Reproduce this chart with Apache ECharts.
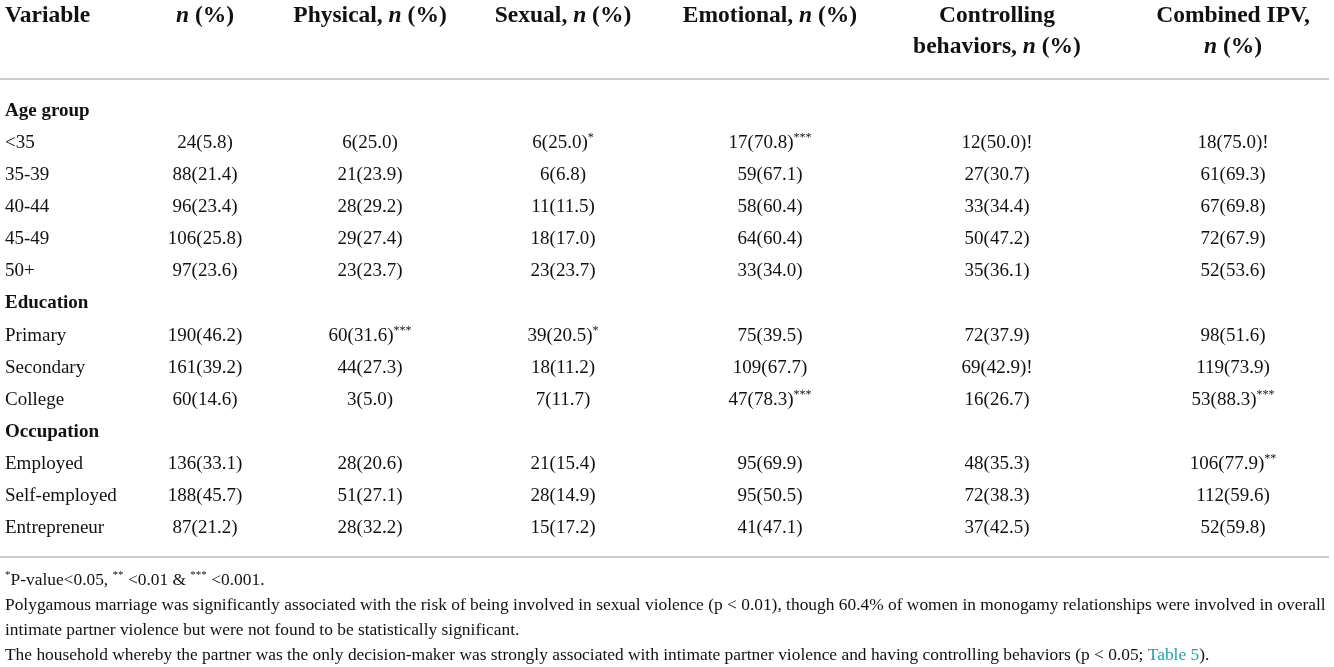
<!doctype html>
<html lang="en">

<head>
    <meta charset="UTF-8" />
    <title>IPV by age, education, occupation</title>
    <style>
        html, body { margin: 0; padding: 0; background: #fff; }
        #main { width: 1334px; height: 667px; }
    </style>
</head>

<body>
    <div id="main"></div>

    <script src="https://cdn.jsdelivr.net/npm/echarts@6/dist/echarts.min.js"></script>
    <script type="text/javascript">
        // table data, one array per column
        var variables = ['Age group', '<35', '35-39', '40-44', '45-49', '50+', 'Education', 'Primary', 'Secondary', 'College',
            'Occupation', 'Employed', 'Self-employed', 'Entrepreneur'];
        var sectionRows = ['Age group', 'Education', 'Occupation'];
        var nPct = ['', '24(5.8)', '88(21.4)', '96(23.4)', '106(25.8)', '97(23.6)', '', '190(46.2)', '161(39.2)', '60(14.6)',
            '', '136(33.1)', '188(45.7)', '87(21.2)'];
        var physical = ['', '6(25.0)', '21(23.9)', '28(29.2)', '29(27.4)', '23(23.7)', '', '60(31.6)***', '44(27.3)', '3(5.0)',
            '', '28(20.6)', '51(27.1)', '28(32.2)'];
        var sexual = ['', '6(25.0)*', '6(6.8)', '11(11.5)', '18(17.0)', '23(23.7)', '', '39(20.5)*', '18(11.2)', '7(11.7)',
            '', '21(15.4)', '28(14.9)', '15(17.2)'];
        var emotional = ['', '17(70.8)***', '59(67.1)', '58(60.4)', '64(60.4)', '33(34.0)', '', '75(39.5)', '109(67.7)', '47(78.3)***',
            '', '95(69.9)', '95(50.5)', '41(47.1)'];
        var controlling = ['', '12(50.0)!', '27(30.7)', '33(34.4)', '50(47.2)', '35(36.1)', '', '72(37.9)', '69(42.9)!', '16(26.7)',
            '', '48(35.3)', '72(38.3)', '37(42.5)'];
        var combined = ['', '18(75.0)!', '61(69.3)', '67(69.8)', '72(67.9)', '52(53.6)', '', '98(51.6)', '119(73.9)', '53(88.3)***',
            '', '106(77.9)**', '112(59.6)', '52(59.8)'];

        // header lines per column ({i|..} = italic n)
        var headers = [
            ['Variable'],
            ['{i|n} (%)'],
            ['Physical, {i|n} (%)'],
            ['Sexual, {i|n} (%)'],
            ['Emotional, {i|n} (%)'],
            ['Controlling', 'behaviors, {i|n} (%)'],
            ['Combined IPV,', '{i|n} (%)']
        ];
        var footnotes = [
            '{s|*}P-value<0.05, {s|**} <0.01 & {s|***} <0.001.',
            'Polygamous marriage was significantly associated with the risk of being involved in sexual violence (p < 0.01), though 60.4% of women in monogamy relationships were involved in overall',
            'intimate partner violence but were not found to be statistically significant.',
            'The household whereby the partner was the only decision-maker was strongly associated with intimate partner violence and having controlling behaviors (p < 0.05; {a|Table 5}).'
        ];

        var columns = [variables, nPct, physical, sexual, emotional, controlling, combined];

        // layout
        var colX = [5, 205, 370, 563, 770, 997, 1233];
        var FONT = '"Liberation Serif", "DejaVu Serif", serif';
        var INK = '#111111';

        var chart = echarts.init(document.getElementById('main'));

        var cellRich = {
            v: { fontFamily: FONT, fontSize: 19, color: INK, lineHeight: 22 },
            h: { fontFamily: FONT, fontSize: 19, fontWeight: 'bold', color: INK, lineHeight: 22 },
            s: { fontFamily: FONT, fontSize: 12, color: INK, lineHeight: 15, verticalAlign: 'top' }
        };

        function cellText(txt) {
            var m = txt.match(/^(.*?)(\*+)$/);
            if (m) return '{v|' + m[1] + '}{s|' + m[2] + '}';
            return '{v|' + txt + '}';
        }

        var series = columns.map(function (col, c) {
            return {
                type: 'scatter',
                symbolSize: 0,
                silent: true,
                itemStyle: { opacity: 1 },
                data: variables.map(function (name, i) {
                    return { value: [colX[c], name], txt: col[i] };
                }),
                label: {
                    show: true,
                    position: 'inside',
                    align: c === 0 ? 'left' : 'center',
                    verticalAlign: 'middle',
                    color: INK,
                    opacity: 1,
                    textBorderWidth: 0,
                    rich: cellRich,
                    formatter: function (p) {
                        var t = p.data.txt;
                        if (!t) return '';
                        if (c === 0) return sectionRows.indexOf(t) >= 0 ? '{h|' + t + '}' : '{v|' + t + '}';
                        return cellText(t);
                    }
                }
            };
        });

        var graphics = [];
        headers.forEach(function (lines, c) {
            lines.forEach(function (line, k) {
                graphics.push({
                    type: 'text',
                    x: colX[c],
                    y: 16 + k * 31,
                    silent: true,
                    style: {
                        text: '{b|' + line.replace(/\{i\|n\}/, '}{i|n}{b|') + '}',
                        align: c === 0 ? 'left' : 'center',
                        verticalAlign: 'middle',
                        rich: {
                            b: { fontFamily: FONT, fontSize: 23.5, fontWeight: 'bold', fill: INK },
                            i: { fontFamily: FONT, fontSize: 23.5, fontWeight: 'bold', fontStyle: 'italic', fill: INK }
                        }
                    }
                });
            });
        });
        // rules
        [79, 557].forEach(function (y) {
            graphics.push({
                type: 'line', silent: true,
                shape: { x1: 0, y1: y, x2: 1329, y2: y },
                style: { stroke: '#cccccc', lineWidth: 2 }
            });
        });
        footnotes.forEach(function (t, k) {
            graphics.push({
                type: 'text',
                x: 5,
                y: 580 + k * 25,
                silent: true,
                style: {
                    text: '{t|' + t.replace(/\{(s|a)\|([^}]*)\}/g, '}{$1|$2}{t|') + '}',
                    verticalAlign: 'middle',
                    rich: {
                        t: { fontFamily: FONT, fontSize: 17.4, fill: INK, lineHeight: 20 },
                        s: { fontFamily: FONT, fontSize: 11, fill: INK, lineHeight: 12, verticalAlign: 'top' },
                        a: { fontFamily: FONT, fontSize: 17.4, fill: '#1aa3b5', lineHeight: 20 }
                    }
                }
            });
        });

        chart.setOption({
            animation: false,
            grid: { left: 0, right: 0, top: 95, height: 449 },
            xAxis: { type: 'value', min: 0, max: 1334, show: false },
            yAxis: { type: 'category', data: variables, inverse: true, show: false },
            graphic: graphics,
            series: series
        });
    </script>
</body>

</html>
